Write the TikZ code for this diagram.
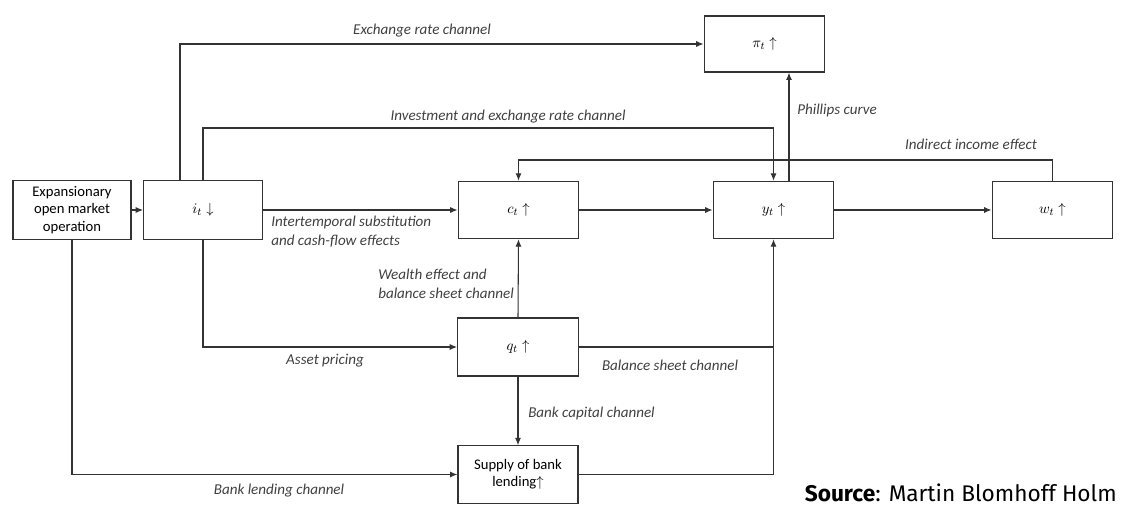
\documentclass[tikz,border=0pt]{standalone}
\usepackage{fontspec}
\setmainfont{Carlito}
\newfontfamily\srcfont{Fira Sans}
\usetikzlibrary{arrows.meta,calc}
\tikzset{
  box/.style={draw=black!80, line width=0.9pt, rectangle, inner sep=0pt, align=center, font=\fontsize{11}{13}\selectfont},
  arr/.style={draw=black!80, line width=0.8pt, -{Latex[length=5.5pt,width=4.5pt]}},
  ln/.style={draw=black!80, line width=0.8pt},
  lab/.style={font=\fontsize{11.3}{14}\selectfont\itshape, text=black!75, inner sep=0pt},
}
\begin{document}
\begin{tikzpicture}[x=0.75pt,y=-0.75pt]
\useasboundingbox (0,0) rectangle (1121,506);
% boxes
\node[box, minimum width=88.5pt, minimum height=44pt] (exp) at (72,210) {Expansionary\\open market\\operation};
\node[box, minimum width=89pt, minimum height=44pt] (i) at (203,210) {$i_t\downarrow$};
\node[box, minimum width=90.5pt, minimum height=43pt] (c) at (518.5,210) {$c_t\uparrow$};
\node[box, minimum width=90.5pt, minimum height=43pt] (y) at (773.5,210) {$y_t\uparrow$};
\node[box, minimum width=90.5pt, minimum height=43pt] (w) at (1052.5,210) {$w_t\uparrow$};
\node[box, minimum width=90.5pt, minimum height=42pt] (pi) at (764.5,44) {$\pi_t\uparrow$};
\node[box, minimum width=90.5pt, minimum height=43.5pt] (q) at (518,347) {$q_t\uparrow$};
\node[box, minimum width=90pt, minimum height=43pt] (s) at (518,474.5) {Supply of bank\\lending$\uparrow$};
% coordinates
\coordinate (exr) at (180,43);
\coordinate (inv) at (0,128);
\coordinate (ph) at (789,0);
\coordinate (ind) at (0,160);
% connectors
\draw[arr] (exp.east) -- (i.west);
\draw[arr] (i.north -| exr) |- (pi.west);
\draw[arr] (i.north) |- (inv -| y.north) -- (y.north);
\draw[arr] (y.north -| ph) -- (pi.south -| ph);
\draw[arr] (w.north) |- (ind -| c.north) -- (c.north);
\draw[arr] (i.east) -- (c.west);
\draw[arr] (c.east) -- (y.west);
\draw[arr] (y.east) -- (w.west);
\draw[arr] (i.south) |- (q.west);
\draw[arr] (q.north) -- (c.south);
\draw[arr] (q.south) -- (s.north);
\draw[ln] (q.east) -- (q.east -| y.south);
\draw[arr] (s.east) -| (y.south);
\draw[arr] (exp.south) |- (s.west);
% labels
\node[lab] (l1) at (422,31) {Exchange rate channel};
\node[lab] (l2) at (508,117) {Investment and exchange rate channel};
\node[lab, anchor=west] (l3) at (797,110) {Phillips curve};
\node[lab] (l4) at (971,144) {Indirect income effect};
\node[lab, anchor=north west, align=left] (l5) at (271,216) {Intertemporal substitution\\and cash-flow effects};
\node[lab, anchor=north west, align=left] (l6) at (378,269) {Wealth effect and\\balance sheet channel};
\node[lab] (l7) at (325,361) {Asset pricing};
\node[lab] (l8) at (670,365) {Balance sheet channel};
\node[lab, anchor=west] (l9) at (528,413) {Bank capital channel};
\node[lab] (l10) at (279,491) {Bank lending channel};
\node[anchor=base east, inner sep=0pt, font=\srcfont\fontsize{17}{19}\selectfont] (src) at (1117,501) {\textbf{Source}: Martin Blomhoff Holm};
\end{tikzpicture}
\end{document}
